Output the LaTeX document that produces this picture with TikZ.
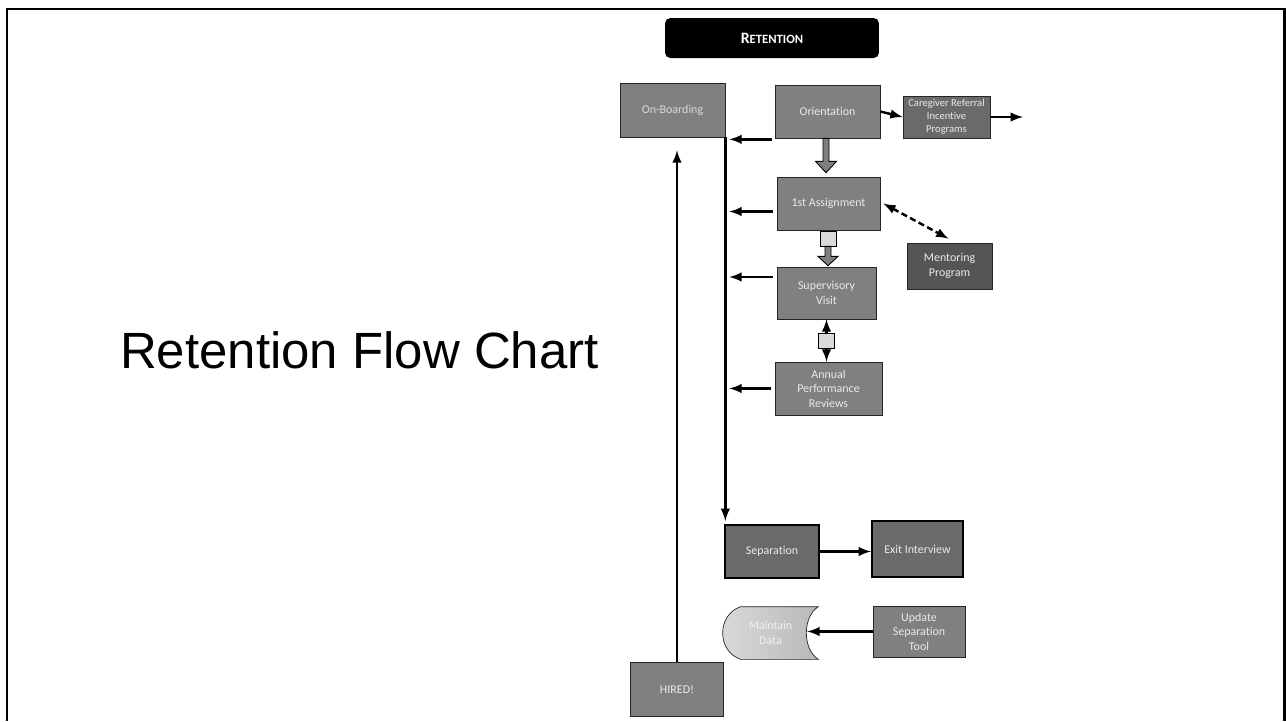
\documentclass[tikz,border=0pt]{standalone}
\usepackage{fontspec}
\setmainfont{Carlito}[Ligatures={NoCommon,NoContextual}]
\newfontfamily\titlefont{Liberation Sans}
\usetikzlibrary{arrows,calc}
\definecolor{boxgray}{HTML}{808080}
\definecolor{darkbox}{HTML}{6A6A6A}
\definecolor{mentgray}{HTML}{555555}
\definecolor{lightbox}{HTML}{DADADA}

\begin{document}
\begin{tikzpicture}[x=0.02cm,y=-0.02cm,>=latex,
	box/.style={draw=black!85,fill=boxgray,text=white!92!black,align=center,inner sep=1pt,
		font=\fontsize{6.8}{8.2}\selectfont},
	sepbox/.style={box,fill=darkbox,draw=black,line width=1.2pt},
	arr/.style={->,line width=1.4pt},
	gate/.style={draw,fill=lightbox,minimum width=0.32cm,minimum height=0.3cm,inner sep=0pt},
	blockarrow/.style={draw,fill=boxgray,line width=0.5pt}]
	\useasboundingbox (0,0) rectangle (1286,721);
	\draw[line width=1.7pt] (7,721) -- (7,9) -- (1284,9) -- (1284,721);
	
	\node[font=\titlefont\fontsize{29}{34}\selectfont,anchor=base west] (title) at (114,368) {Retention Flow Chart};
	\node[fill=black,rounded corners=3pt,minimum width=4.28cm,minimum height=0.8cm,text=white,font=\bfseries] (ret) at (772,38)
		{{\fontsize{9}{10}\selectfont R}{\fontsize{7.2}{8}\selectfont ETENTION}};
	
	\node[box,minimum width=2.1cm,minimum height=1.08cm,text=white!85!black] (onb) at (672.5,110) {On-Boarding};
	\node[box,minimum width=2.1cm,minimum height=1.06cm] (ori) at (827.5,111.5) {Orientation};
	\node[box,fill=darkbox,minimum width=1.74cm,minimum height=0.84cm,font=\fontsize{6}{7.4}\selectfont] (care) at (946.5,117)
		{Caregiver Referral\\Incentive\\Programs};
	\node[box,minimum width=2.06cm,minimum height=1.06cm] (asg) at (828.5,203.5) {1st Assignment};
	\node[box,fill=mentgray,minimum width=1.7cm,minimum height=0.92cm] (ment) at (949.5,266) {Mentoring\\Program};
	\node[box,minimum width=1.98cm,minimum height=1.04cm] (sup) at (826.5,293) {Supervisory\\Visit};
	\node[box,minimum width=2.14cm,minimum height=1.06cm] (ann) at (828.5,388.5) {Annual\\Performance\\Reviews};
	\node[sepbox,minimum width=1.88cm,minimum height=1.06cm] (sep) at (772,551.5) {Separation};
	\node[sepbox,minimum width=1.82cm,minimum height=1.12cm] (exit) at (917.5,549) {Exit Interview};
	\node[box,minimum width=1.84cm,minimum height=1.02cm] (upd) at (919,631.5) {Update\\Separation\\Tool};
	\node[box,minimum width=1.86cm,minimum height=1.08cm] (hired) at (677,689) {HIRED!};
	\node[minimum width=1.9cm,minimum height=1.04cm] (data) at (770.5,633) {};
	\coordinate (careout) at (1023,117);
	
	\draw[draw=black!85,left color=lightbox,right color=gray!55] ($(data.north west)+(18,0)$) -- (data.north east)
		.. controls +(-16,10) and +(-16,-10) .. (data.south east) -- ($(data.south west)+(18,0)$)
		.. controls +(-24,-8) and +(-24,8) .. ($(data.north west)+(18,0)$) -- cycle;
	\node[align=center,text=white!94!black,font=\fontsize{6.8}{8.2}\selectfont] at (data) {Maintain\\Data};
	
	\draw[blockarrow] ($(ori.south)+(-4.5,0)$) -- ++(0,23) -- ++(-7.5,0) -- ($(ori.south |- asg.north)+(-1.5,-4)$)
		-- ($(ori.south)+(9,23)$) -- ++(-7.5,0) -- ($(ori.south)+(1.5,0)$) -- cycle;
	\node[gate] (gate1) at (828,238.5) {};
	\draw[blockarrow] ($(gate1.south)+(-3,0)$) -- ++(0,10) -- ++(-7,0) -- ($(gate1.south |- sup.north)+(0,-1)$)
		-- ($(gate1.south)+(10,10)$) -- ++(-7,0) -- ($(gate1.south)+(3,0)$) -- cycle;
	\draw[arr,<->] (sup.south) -- (sup.south |- ann.north);
	\node[gate] (gate2) at (826.5,341) {};
	\draw[arr,<->,dash pattern=on 3.5pt off 2pt] ($(asg.east)+(3,0)$) -- ($(ment.north)+(-1,-4)$);
	
	\draw[arr] (ori.east) -- (care.west);
	\draw[arr] (care.east) -- (careout);
	\draw[arr] ($(ori.south west)+(-3,1)$) -- ($(onb.south east)+(4,2)$);
	\foreach \n/\dy in {asg/8, sup/-16, ann/0}
		\draw[arr] ($(\n.west)+(-4,\dy)$) -- ($(onb.east |- \n.west)+(4,\dy)$);
	\draw[arr,shorten >=0.06cm] (onb.south east) -- (onb.south east |- sep.north);
	\draw[arr,shorten >=0.26cm] (hired.north) -- (hired.north |- onb.south);
	\draw[arr] (sep.east) -- (sep.east -| exit.west);
	\draw[arr] (upd.west) -- ($(upd.west -| data.east)+(-11,0)$);
\end{tikzpicture}
\end{document}
